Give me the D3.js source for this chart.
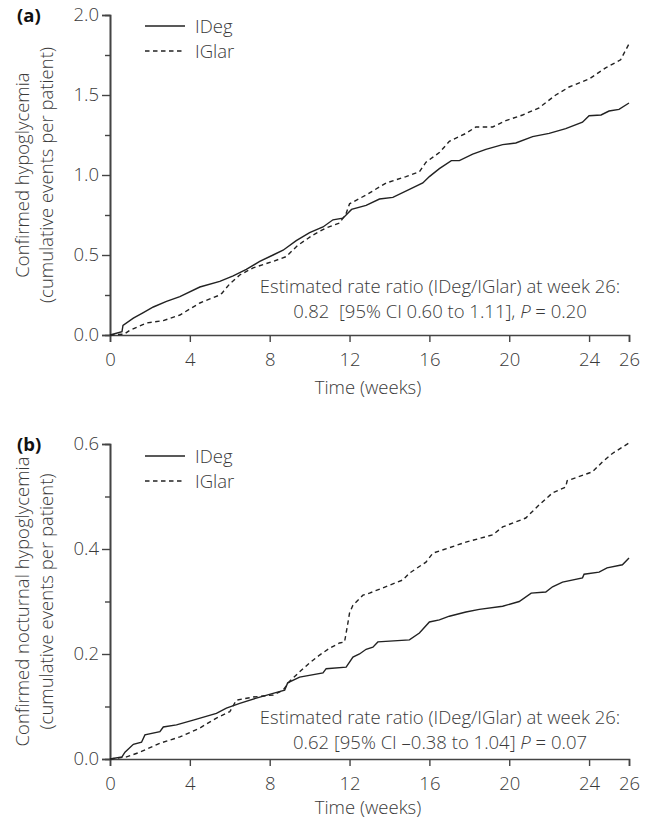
<!DOCTYPE html>
<html>
<head>
<meta charset="utf-8">
<script src="https://cdn.jsdelivr.net/npm/d3@7"></script>
<style>
  body { margin: 0; background: #fff; }
  svg text { font-family: "Open Sans", "Noto Sans", sans-serif; font-weight: 300; fill: #3a3a3a; }
</style>
</head>
<body>
<div id="container"></div>
<script>
// weeks on the x axis
var xTicks = [0, 4, 8, 12, 16, 20, 24, 26];

// panel (a) confirmed hypoglycemia
var weeksA_IDeg = [0, 0.6, 0.65, 1.17, 1.67, 2.17, 2.83, 3.5, 4.5, 5.5, 6.17, 6.83, 7.5, 8.17, 8.67, 9.33, 10, 10.67, 11.17, 11.67, 12.1, 12.83, 13.5, 14.17, 15, 15.67, 16, 16.5, 17.1, 17.5, 18.17, 18.83, 19.67, 20.33, 21.17, 22, 22.83, 23.67, 24, 24.6, 25, 25.5, 26];
var rateA_IDeg  = [0, 0.02, 0.06, 0.105, 0.14, 0.175, 0.21, 0.24, 0.30, 0.335, 0.37, 0.41, 0.46, 0.50, 0.53, 0.59, 0.64, 0.675, 0.72, 0.73, 0.785, 0.81, 0.85, 0.86, 0.91, 0.95, 0.99, 1.04, 1.09, 1.09, 1.13, 1.16, 1.19, 1.20, 1.24, 1.26, 1.29, 1.33, 1.37, 1.375, 1.40, 1.41, 1.45];
var weeksA_IGlar = [0, 0.7, 1.0, 1.83, 2.67, 3.5, 4.5, 5.5, 5.6, 6.0, 6.5, 7.17, 7.67, 8.17, 8.83, 9.4, 10.17, 10.83, 11.5, 11.83, 12.0, 12.83, 13.83, 14.83, 15.5, 15.83, 16.5, 17, 17.83, 18.33, 19.17, 19.83, 20.67, 21.5, 22.33, 23, 24, 24.83, 25.58, 26];
var rateA_IGlar  = [0, 0.005, 0.03, 0.075, 0.09, 0.125, 0.20, 0.25, 0.26, 0.32, 0.375, 0.42, 0.44, 0.46, 0.49, 0.56, 0.625, 0.67, 0.70, 0.76, 0.82, 0.875, 0.95, 0.99, 1.02, 1.08, 1.14, 1.21, 1.26, 1.30, 1.30, 1.34, 1.375, 1.42, 1.50, 1.55, 1.60, 1.67, 1.72, 1.82];

// panel (b) confirmed nocturnal hypoglycemia
var weeksB_IDeg = [0, 0.6, 0.75, 1.17, 1.58, 1.75, 2.5, 2.67, 3.33, 4.17, 5.33, 5.83, 6.5, 7.33, 8.17, 8.75, 8.9, 9.5, 10.67, 10.83, 11.83, 12.17, 12.5, 12.83, 13.17, 13.42, 15, 15.5, 16, 16.5, 17, 17.83, 18.5, 19.67, 20.5, 21.1, 21.83, 22.17, 22.67, 23.67, 23.75, 24.5, 24.9, 25.67, 26];
var rateB_IDeg  = [0, 0.004, 0.013, 0.028, 0.032, 0.046, 0.052, 0.061, 0.065, 0.074, 0.087, 0.097, 0.106, 0.116, 0.125, 0.131, 0.145, 0.156, 0.164, 0.172, 0.175, 0.194, 0.20, 0.209, 0.213, 0.223, 0.227, 0.24, 0.261, 0.265, 0.272, 0.28, 0.285, 0.291, 0.30, 0.316, 0.318, 0.328, 0.337, 0.345, 0.352, 0.356, 0.364, 0.37, 0.383];
var weeksB_IGlar = [0, 0.83, 1.5, 2.5, 3.5, 4.5, 5.33, 6, 6.33, 7.17, 8.17, 8.67, 9, 9.5, 10, 10.5, 11, 11.5, 11.75, 11.9, 12, 12.17, 12.67, 13, 13.67, 14.67, 15, 15.83, 16.17, 17.83, 19.17, 19.67, 20.83, 21.5, 22.17, 22.83, 22.9, 24.17, 24.67, 25.17, 26];
var rateB_IGlar  = [0, 0.004, 0.013, 0.03, 0.042, 0.059, 0.078, 0.09, 0.112, 0.118, 0.122, 0.131, 0.148, 0.166, 0.183, 0.198, 0.211, 0.221, 0.223, 0.255, 0.278, 0.293, 0.312, 0.316, 0.326, 0.341, 0.354, 0.375, 0.392, 0.413, 0.427, 0.442, 0.459, 0.484, 0.507, 0.518, 0.53, 0.547, 0.566, 0.582, 0.602];

var width = 649, height = 821;
var ink = "#222";
var dash = "4.5,3.5";
var fs = 18.5;

var svg = d3.select("#container")
    .append("svg")
    .attr("width", width)
    .attr("height", height);

function zip(xs, ys) {
    return xs.map(function(x, i) { return [x, ys[i]]; });
}

function drawPanel(opts) {
    var g = svg.append("g");

    var x = d3.scaleLinear().domain([0, 26]).range([110, 629]);
    var y = d3.scaleLinear().domain([0, opts.yMax]).range([opts.bottom, opts.top]);

    // y axis: labelled major ticks plus short minor ticks in between
    g.append("g")
        .attr("transform", "translate(110,0)")
        .call(d3.axisLeft(y).tickValues(opts.yTicks).tickFormat(d3.format(".1f")).tickSize(8).tickPadding(3));
    g.append("g")
        .attr("transform", "translate(110,0)")
        .call(d3.axisLeft(y).tickValues(opts.yMinor).tickFormat("").tickSize(5));

    g.append("g")
        .attr("transform", "translate(0," + opts.bottom + ")")
        .call(d3.axisBottom(x).tickValues(xTicks).tickSize(7).tickPadding(11));

    g.selectAll(".domain").attr("stroke", "#444").attr("stroke-width", 1.6);
    g.selectAll(".tick line").attr("stroke", "#444").attr("stroke-width", 1.4);
    g.selectAll(".tick text")
        .attr("font-size", fs)
        .attr("fill", "#3a3a3a")
        .style("font-family", "'Open Sans', sans-serif")
        .style("font-weight", 300);

    // panel letter
    g.append("text")
        .attr("x", 17).attr("y", opts.top + 7)
        .attr("font-size", fs)
        .style("font-weight", 700)
        .style("fill", "#111")
        .text(opts.letter);

    // rotated two-line y title
    var midY = (opts.top + opts.bottom) / 2;
    opts.yTitle.forEach(function(t, i) {
        g.append("text")
            .attr("transform", "translate(" + (29 + i * 24) + "," + midY + ") rotate(-90)")
            .attr("text-anchor", "middle")
            .attr("font-size", fs)
            .text(t);
    });

    // x title
    g.append("text")
        .attr("x", 368).attr("y", opts.bottom + opts.xTitleGap)
        .attr("text-anchor", "middle")
        .attr("font-size", fs)
        .text("Time (weeks)");

    // the two cumulative curves
    var line = d3.line()
        .x(function(d) { return x(d[0]); })
        .y(function(d) { return y(d[1]); });

    g.append("path")
        .datum(zip(opts.ideg[0], opts.ideg[1]))
        .attr("d", line)
        .attr("fill", "none")
        .attr("stroke", ink)
        .attr("stroke-width", 1.4);

    g.append("path")
        .datum(zip(opts.iglar[0], opts.iglar[1]))
        .attr("d", line)
        .attr("fill", "none")
        .attr("stroke", ink)
        .attr("stroke-width", 1.4)
        .attr("stroke-dasharray", dash);

    // legend
    var legend = [["IDeg", null], ["IGlar", dash]];
    legend.forEach(function(l, i) {
        var ly = opts.legendY + i * 25;
        g.append("line")
            .attr("x1", 145).attr("x2", 185)
            .attr("y1", ly).attr("y2", ly)
            .attr("stroke", ink)
            .attr("stroke-width", 1.4)
            .attr("stroke-dasharray", l[1]);
        g.append("text")
            .attr("x", 195).attr("y", ly + 7)
            .attr("font-size", fs)
            .text(l[0]);
    });

    // rate ratio note
    var note = g.append("text")
        .attr("text-anchor", "middle")
        .attr("font-size", fs);
    note.append("tspan")
        .attr("x", 440).attr("y", opts.noteY)
        .text("Estimated rate ratio (IDeg/IGlar) at week 26:");
    var l2 = note.append("tspan")
        .attr("x", 440).attr("y", opts.noteY + 25);
    l2.append("tspan").text(opts.noteStart);
    l2.append("tspan").style("font-style", "italic").text("P");
    l2.append("tspan").text(" = " + opts.pValue);
}

drawPanel({
    letter: "(a)",
    top: 15, bottom: 335, yMax: 2.0,
    yTicks: [0, 0.5, 1.0, 1.5, 2.0],
    yMinor: [0.25, 0.75, 1.25, 1.75],
    yTitle: ["Confirmed hypoglycemia", "(cumulative events per patient)"],
    ideg: [weeksA_IDeg, rateA_IDeg],
    iglar: [weeksA_IGlar, rateA_IGlar],
    legendY: 26,
    xTitleGap: 59,
    noteY: 293,
    noteStart: "0.82\u00a0\u00a0[95% CI 0.60 to 1.11], ",
    pValue: "0.20"
});

drawPanel({
    letter: "(b)",
    top: 444, bottom: 759, yMax: 0.6,
    yTicks: [0, 0.2, 0.4, 0.6],
    yMinor: [0.1, 0.3, 0.5],
    yTitle: ["Confirmed nocturnal hypoglycemia", "(cumulative events per patient)"],
    ideg: [weeksB_IDeg, rateB_IDeg],
    iglar: [weeksB_IGlar, rateB_IGlar],
    legendY: 456,
    xTitleGap: 55,
    noteY: 724,
    noteStart: "0.62 [95% CI \u20130.38 to 1.04] ",
    pValue: "0.07"
});
</script>
</body>
</html>
